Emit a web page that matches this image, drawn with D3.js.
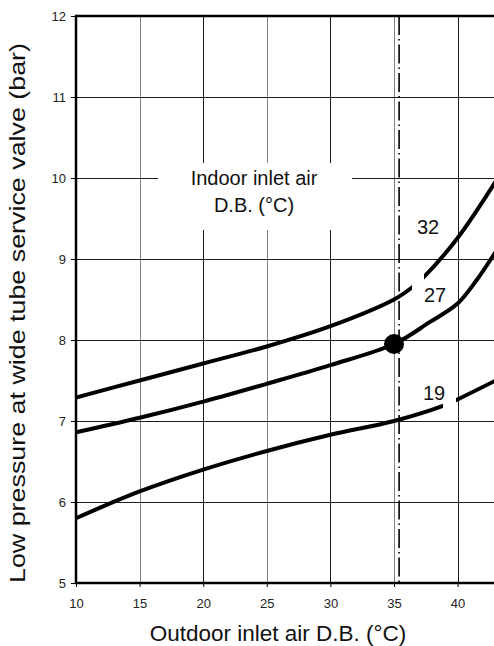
<!DOCTYPE html>
<html>
<head>
<meta charset="utf-8">
<script src="https://cdn.jsdelivr.net/npm/d3@7"></script>
<style>
  html, body { margin: 0; padding: 0; background: #fff; }
  svg { display: block; font-family: "Liberation Sans", Arial, sans-serif; }
</style>
</head>
<body>
<svg id="chart" width="494" height="646"></svg>
<script>
// Outdoor inlet air dry-bulb temperature (°C) and low pressure (bar)
const temps32 = [10, 15, 20, 25, 30, 35, 36.5, 37.3, 40, 43];
const press32 = [7.29, 7.5, 7.71, 7.92, 8.17, 8.5, 8.66, 8.77, 9.26, 9.96];

const temps27 = [10, 15, 20, 25, 30, 35, 37.8, 40, 41.5, 43];
const press27 = [6.86, 7.04, 7.24, 7.46, 7.69, 7.95, 8.22, 8.45, 8.74, 9.09];

const temps19 = [10, 15, 20, 25, 30, 35, 38.9, 39.9, 43];
const press19 = [5.80, 6.13, 6.40, 6.63, 6.83, 7.0, 7.19, 7.26, 7.5];

const curveNames = ["32", "27", "19"];
const xTicks = [10, 15, 20, 25, 30, 35, 40];
const yTicks = [5, 6, 7, 8, 9, 10, 11, 12];

const ratedTemp = 35;       // rated point on the 27 °C curve
const ratedPress = 7.95;
const refLineTemp = 35.4;   // dash-dot reference line

const svg = d3.select("#chart");
const W = 494, H = 646;
const padL = 76, padT = 16, baseY = 583;

const x = d3.scaleLinear().domain([10, 43]).range([padL, padL + 33 * 12.72]);
const y = d3.scaleLinear().domain([5, 12]).range([baseY, padT]);

svg.append("defs").append("clipPath").attr("id", "plot")
  .append("rect").attr("x", padL).attr("y", padT).attr("width", W - padL).attr("height", baseY - padT);

// grid
const grid = svg.append("g");
grid.selectAll("line.v").data(xTicks.filter(d => d > 10)).join("line")
  .attr("x1", d => Math.round(x(d)) + 0.5).attr("x2", d => Math.round(x(d)) + 0.5)
  .attr("y1", padT).attr("y2", baseY)
  .attr("stroke", d => d % 10 === 5 ? "#808080" : "#1a1a1a").attr("stroke-width", 1);
grid.selectAll("line.h").data(yTicks.filter(d => d > 5 && d < 12)).join("line")
  .attr("x1", padL).attr("x2", W)
  .attr("y1", d => Math.round(y(d)) + 0.5).attr("y2", d => Math.round(y(d)) + 0.5)
  .attr("stroke", "#1a1a1a").attr("stroke-width", 1);

// white panel behind the legend title
grid.append("rect").attr("x", 158).attr("y", 163).attr("width", 194).attr("height", 67).attr("fill", "#fff");

// dash-dot reference line
svg.append("line")
  .attr("x1", x(refLineTemp)).attr("x2", x(refLineTemp))
  .attr("y1", padT).attr("y2", baseY)
  .attr("stroke", "#000").attr("stroke-width", 1.6)
  .attr("stroke-dasharray", "19 4 1.5 4");

// curves
const series = [
  { name: "32", t: temps32, p: press32 },
  { name: "27", t: temps27, p: press27 },
  { name: "19", t: temps19, p: press19 }
];
const line = d3.line().x(d => x(d[0])).y(d => y(d[1])).curve(d3.curveCatmullRom.alpha(0.5));
const curves = svg.append("g").attr("clip-path", "url(#plot)");
series.forEach(s => {
  curves.append("path")
    .attr("d", line(s.t.map((t, i) => [t, s.p[i]])))
    .attr("fill", "none").attr("stroke", "#000").attr("stroke-width", 4);
});

// rated point
svg.append("circle").attr("cx", x(ratedTemp)).attr("cy", y(ratedPress)).attr("r", 10).attr("fill", "#000");

// curve labels with white backing
const labelPos = { "32": [428, 234], "27": [435, 302], "19": [434, 400] };
const labelMask = { "27": [412, 274, 12, 18], "19": [443, 394, 13, 18] };
curveNames.forEach(n => {
  if (labelMask[n]) {
    const m = labelMask[n];
    svg.append("rect").attr("x", m[0]).attr("y", m[1]).attr("width", m[2]).attr("height", m[3]).attr("fill", "#fff");
  }
  svg.append("text").attr("x", labelPos[n][0]).attr("y", labelPos[n][1])
    .attr("text-anchor", "middle").attr("font-size", 20).attr("fill", "#111").text(n);
});

// legend title
const lt = svg.append("text").attr("text-anchor", "middle").attr("font-size", 20).attr("fill", "#111");
lt.append("tspan").attr("x", 254).attr("y", 185).text("Indoor inlet air");
lt.append("tspan").attr("x", 254).attr("y", 212).text("D.B. (°C)");

// axes
const xAxis = svg.append("g").attr("transform", `translate(0,${baseY})`)
  .call(d3.axisBottom(x).tickValues(xTicks).tickFormat(d3.format("d")).tickSize(4).tickPadding(12));
xAxis.select(".domain").remove();
xAxis.selectAll("text").attr("font-size", 13).attr("fill", "#222").attr("font-family", "Liberation Sans, Arial, sans-serif");

const yAxis = svg.append("g").attr("transform", `translate(${padL},0)`)
  .call(d3.axisLeft(y).tickValues(yTicks).tickFormat(d3.format("d")).tickSize(5).tickPadding(5));
yAxis.select(".domain").remove();
yAxis.selectAll("text").attr("font-size", 13).attr("fill", "#222").attr("font-family", "Liberation Sans, Arial, sans-serif");

// frame
svg.append("line").attr("x1", padL).attr("x2", W).attr("y1", padT).attr("y2", padT).attr("stroke", "#000").attr("stroke-width", 2.5);
svg.append("line").attr("x1", padL).attr("x2", W).attr("y1", baseY).attr("y2", baseY).attr("stroke", "#000").attr("stroke-width", 2.5);
svg.append("line").attr("x1", padL).attr("x2", padL).attr("y1", padT - 1.25).attr("y2", baseY + 1.25).attr("stroke", "#000").attr("stroke-width", 2.5);

// axis titles
svg.append("text").attr("x", 278).attr("y", 641).attr("text-anchor", "middle")
  .attr("font-size", 22.5).attr("fill", "#111").text("Outdoor inlet air D.B. (°C)");
svg.append("text").attr("transform", "translate(25,313) rotate(-90)").attr("text-anchor", "middle")
  .attr("font-size", 22).attr("fill", "#111")
  .attr("textLength", 540).attr("lengthAdjust", "spacingAndGlyphs")
  .text("Low pressure at wide tube service valve (bar)");
</script>
</body>
</html>
